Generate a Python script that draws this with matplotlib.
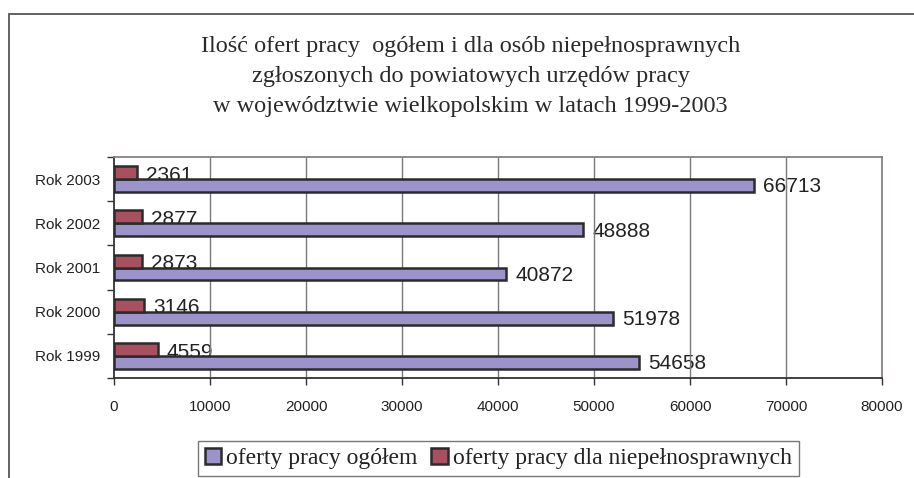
import numpy as np
import matplotlib
matplotlib.use('Agg')
import matplotlib.pyplot as plt
from matplotlib.patches import Rectangle, Patch

# data
years = ['Rok 1999', 'Rok 2000', 'Rok 2001', 'Rok 2002', 'Rok 2003']
ogolem = [54658, 51978, 40872, 48888, 66713]
niepelnosprawni = [4559, 3146, 2873, 2877, 2361]
x_ticks = [0, 10000, 20000, 30000, 40000, 50000, 60000, 70000, 80000]

title = ('Ilość ofert pracy  ogółem i dla osób niepełnosprawnych\n'
         'zgłoszonych do powiatowych urzędów pracy\n'
         'w województwie wielkopolskim w latach 1999-2003')
label_total = 'oferty pracy ogółem'
label_dis = 'oferty pracy dla niepełnosprawnych'

purple = '#9b93c9'
red = '#a8505f'
edge = '#2b2b2b'

sans = 'Liberation Sans'
serif = 'Liberation Serif'

fig = plt.figure(figsize=(9.14, 4.78), dpi=100)

# outer frame of the chart object (cut off on the right and at the bottom)
fig.patches.append(Rectangle((9 / 914, -0.1), 1.2, (478 - 14) / 478 + 0.1,
                             transform=fig.transFigure, fill=False,
                             edgecolor='#555555', linewidth=1.3))

fig.text(0.515, 0.840, title, ha='center', va='center', fontsize=17.5,
         family=serif, color='#2a2a2a', linespacing=1.55)

ax = fig.add_axes([114 / 914, 100 / 478, 768 / 914, 221 / 478])

y = np.arange(len(years))
h = 0.29
ax.barh(y - h / 2, ogolem, height=h, color=purple, edgecolor=edge,
        linewidth=1.8, zorder=3)
ax.barh(y + h / 2, niepelnosprawni, height=h, color=red, edgecolor=edge,
        linewidth=1.8, zorder=3)

# value labels sit behind grid and bars, like in the original
for i in range(len(years)):
    ax.annotate(str(ogolem[i]), xy=(ogolem[i], y[i] - h - 0.01),
                xytext=(6.5, 0), textcoords='offset points', va='baseline',
                fontsize=15, family=sans, color='#222222', zorder=1)
    ax.annotate(str(niepelnosprawni[i]), xy=(niepelnosprawni[i], y[i] - 0.04),
                xytext=(6.5, 0), textcoords='offset points', va='baseline',
                fontsize=15, family=sans, color='#222222', zorder=1)

for t in x_ticks[1:-1]:
    ax.axvline(t, color='#7a7a7a', linewidth=1.0, zorder=2)

ax.set_xlim(0, 80000)
ax.set_ylim(-0.5, len(years) - 0.5)
ax.set_xticks(x_ticks)
ax.set_xticklabels([str(t) for t in x_ticks], fontsize=11, family=sans,
                   color='#222222')
ax.set_yticks(y)
ax.set_yticklabels(years, fontsize=11, family=sans, color='#222222')
ax.set_yticks(np.arange(len(years) + 1) - 0.5, minor=True)
ax.tick_params(axis='y', which='major', length=0, pad=10)
ax.tick_params(axis='y', which='minor', length=5, width=1, color='#333333')
ax.tick_params(axis='x', which='major', length=5, width=1, color='#333333',
               pad=11)

ax.spines['left'].set_color('#333333')
ax.spines['bottom'].set_color('#333333')
ax.spines['top'].set_color('#8c7f7f')
ax.spines['right'].set_color('#8c7f7f')
for s in ax.spines.values():
    s.set_linewidth(1.3)

handles = [Patch(facecolor=purple, edgecolor=edge, linewidth=1.8),
           Patch(facecolor=red, edgecolor=edge, linewidth=1.8)]
leg = fig.legend(handles, [label_total, label_dis], loc='center',
                 bbox_to_anchor=(0.545, 0.041), ncol=2,
                 prop={'family': serif, 'size': 17}, frameon=True,
                 fancybox=False, handlelength=0.7, handleheight=0.7,
                 handletextpad=0.2, columnspacing=0.6, borderpad=0.3,
                 borderaxespad=0)
leg.get_frame().set_edgecolor('#555555')
leg.get_frame().set_linewidth(1.0)
for t in leg.get_texts():
    t.set_color('#222222')

fig.savefig('out.png', dpi=100, facecolor='white')
